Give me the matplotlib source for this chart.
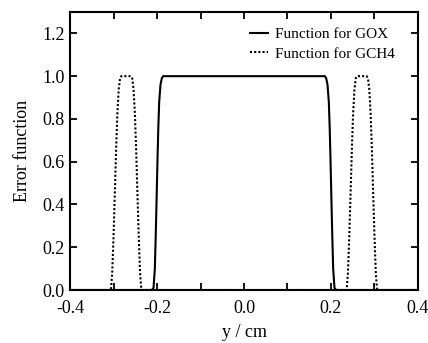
import matplotlib
matplotlib.use("Agg")
import matplotlib.pyplot as plt
from matplotlib.ticker import MultipleLocator

plt.rcParams['font.family'] = ['Liberation Serif', 'DejaVu Serif']

# Function for GOX
gox_y = [-0.400, -0.212, -0.208, -0.205, -0.203, -0.201, -0.199, -0.197, -0.195,
         -0.192, -0.189, -0.186, 0.186, 0.189, 0.192, 0.195, 0.197, 0.199, 0.201,
         0.203, 0.205, 0.208, 0.212, 0.400]
gox_v = [0.0, 0.0, 0.01, 0.10, 0.25, 0.42, 0.60, 0.76, 0.88,
         0.96, 0.99, 1.0, 1.0, 0.99, 0.96, 0.88, 0.76, 0.60, 0.42,
         0.25, 0.10, 0.01, 0.0, 0.0]

# Function for GCH4
gch4_y = [-0.400, -0.306, -0.303, -0.300, -0.297, -0.294, -0.291, -0.288, -0.285,
          -0.282, -0.260, -0.257, -0.254, -0.251, -0.248, -0.245, -0.242, -0.239,
          -0.236, 0.236, 0.239, 0.242, 0.245, 0.248, 0.251, 0.254, 0.257, 0.260,
          0.282, 0.285, 0.288, 0.291, 0.294, 0.297, 0.300, 0.303, 0.306, 0.400]
gch4_v = [0.0, 0.0, 0.08, 0.25, 0.45, 0.66, 0.83, 0.94, 0.99,
          1.0, 1.0, 0.99, 0.94, 0.83, 0.66, 0.45, 0.25, 0.08,
          0.0, 0.0, 0.08, 0.25, 0.45, 0.66, 0.83, 0.94, 0.99, 1.0,
          1.0, 0.99, 0.94, 0.83, 0.66, 0.45, 0.25, 0.08, 0.0, 0.0]

fig = plt.figure(figsize=(4.28, 3.43), dpi=100)
ax = fig.add_axes([0.1636, 0.1545, 0.8130, 0.8105])

ax.plot(gox_y, gox_v, color='black', lw=1.5, linestyle='-', label='Function for GOX')
ax.plot(gch4_y, gch4_v, color='black', lw=1.5, linestyle=(0, (1, 1)), label='Function for GCH4')

ax.set_xlim(-0.4, 0.4)
ax.set_ylim(0.0, 1.3)
ax.xaxis.set_major_locator(MultipleLocator(0.2))
ax.xaxis.set_minor_locator(MultipleLocator(0.1))
ax.yaxis.set_major_locator(MultipleLocator(0.2))
ax.xaxis.set_major_formatter(plt.FuncFormatter(lambda v, p: f"{v:.1f}".replace("-0.0", "0.0")))
ax.yaxis.set_major_formatter(plt.FuncFormatter(lambda v, p: f"{v:.1f}"))

for s in ax.spines.values():
    s.set_linewidth(1.5)
ax.tick_params(which='both', direction='in', top=True, right=True, labelsize=13, width=1.3)
ax.tick_params(axis='x', which='both', pad=7)
ax.tick_params(axis='y', which='both', pad=4)
ax.tick_params(which='major', length=5)
ax.tick_params(which='minor', length=5)

ax.set_xlabel('y / cm', fontsize=13, labelpad=5)
ax.set_ylabel('Error function', fontsize=13, labelpad=8)

ax.legend(loc='upper right', bbox_to_anchor=(0.934, 0.945), frameon=False, fontsize=11,
          handlelength=1.2, handletextpad=0.45, borderaxespad=0.0, borderpad=0.0,
          labelspacing=0.4)

fig.savefig('out.png', dpi=100)
